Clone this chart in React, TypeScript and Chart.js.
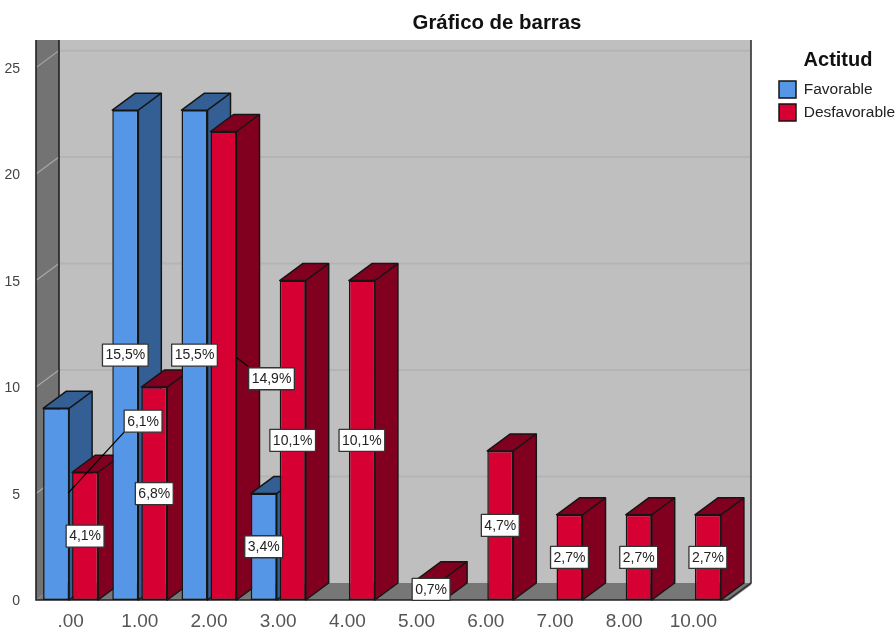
import React, { useEffect, useRef } from "react";
import { Chart, registerables } from "chart.js";

Chart.register(...registerables);

const categories = [".00", "1.00", "2.00", "3.00", "4.00", "5.00", "6.00", "7.00", "8.00", "10.00"];
const favorable = [9, 23, 23, 5, 0, 0, 0, 0, 0, 0];
const desfavorable = [6, 10, 22, 15, 15, 1, 7, 4, 4, 4];
const favorableLabels = ["6,1%", "15,5%", "15,5%", "3,4%", "", "", "", "", "", ""];
const desfavorableLabels = ["4,1%", "6,8%", "14,9%", "10,1%", "10,1%", "0,7%", "4,7%", "2,7%", "2,7%", "2,7%"];
const seriesNames = ["Favorable", "Desfavorable"];
const frontColors = ["#5596e6", "#d60032"];
const sideColors = ["#335f94", "#82001f"];
const yTicks = { max: 25.5, step: 5 };

const DX = 23;
const DY = 17;
const FONT = '"Liberation Sans", Arial, sans-serif';

// label moved away from its bar: [dataset, category, dx, dy, leaderFromDx, leaderFromDy, leaderToDx, leaderToDy]
const movedLabels = [
  [0, 0, 87, -83, 68, -72, 12, -11],
  [1, 2, 48, 13, 25, 1, 13.5, -8],
];

const bars3d = {
  id: "bars3d",
  afterLayout(chart: any) {
    chart.titleBlock.left = 98;
    const l = chart.legend;
    l.left = 773;
    l.right = 903;
    l.width = l.right - l.left;
    l.top = 50;
    l.bottom = 160;
    l.height = l.bottom - l.top;
  },
  beforeLayout(chart: any) {
    const l = chart.legend;
    if (!l.__wrapped) {
      const fit = l.fit;
      l.fit = function () {
        fit.call(this);
        this.width = 168;
      };
      l.__wrapped = true;
    }
  },
  beforeDatasetsDraw(chart: any) {
    const { ctx, chartArea: a, scales } = chart;
    const y = scales.y;
    const L = a.left, R = a.right, B = a.bottom;
    const wallTop = a.top - DY;

    ctx.save();
    // back wall
    ctx.fillStyle = "#bfbfbf";
    ctx.fillRect(L + DX, wallTop, R - L, B - DY - wallTop);
    // left wall
    ctx.fillStyle = "#737373";
    ctx.beginPath();
    ctx.moveTo(L, wallTop);
    ctx.lineTo(L + DX, wallTop);
    ctx.lineTo(L + DX, B - DY);
    ctx.lineTo(L, B);
    ctx.closePath();
    ctx.fill();
    // floor
    ctx.fillStyle = "#777777";
    ctx.beginPath();
    ctx.moveTo(L, B);
    ctx.lineTo(L + DX, B - DY);
    ctx.lineTo(R + DX, B - DY);
    ctx.lineTo(R, B);
    ctx.closePath();
    ctx.fill();

    // grid
    for (let v = yTicks.step; v <= yTicks.max; v += yTicks.step) {
      const py = y.getPixelForValue(v);
      ctx.strokeStyle = "#b4b4b4";
      ctx.lineWidth = 2;
      ctx.beginPath();
      ctx.moveTo(L + DX, py - DY);
      ctx.lineTo(R + DX, py - DY);
      ctx.stroke();
      ctx.strokeStyle = "#a8a8a8";
      ctx.lineWidth = 1.2;
      ctx.beginPath();
      ctx.moveTo(L, py);
      ctx.lineTo(L + DX, py - DY);
      ctx.stroke();
    }

    // frame lines
    ctx.strokeStyle = "#222222";
    ctx.lineWidth = 1.6;
    ctx.beginPath();
    ctx.moveTo(L, wallTop);
    ctx.lineTo(L, B);
    ctx.lineTo(R, B);
    ctx.moveTo(L + DX, wallTop);
    ctx.lineTo(L + DX, B - DY);
    ctx.stroke();
    ctx.strokeStyle = "#a0a0a0";
    ctx.lineWidth = 2;
    ctx.beginPath();
    ctx.moveTo(R + 1, B);
    ctx.lineTo(R + DX, B - DY + 1);
    ctx.stroke();
    ctx.strokeStyle = "#333333";
    ctx.lineWidth = 1.6;
    ctx.beginPath();
    ctx.moveTo(R + DX, wallTop);
    ctx.lineTo(R + DX, B - DY);
    ctx.lineTo(R, B);
    ctx.stroke();

    // bars, painted left to right
    const metas = [chart.getDatasetMeta(0), chart.getDatasetMeta(1)];
    const datasets = chart.data.datasets;
    categories.forEach((_, c) => {
      metas.forEach((meta: any, d: number) => {
        if (!datasets[d].data[c]) return;
        const el = meta.data[c];
        const l = el.x - el.width / 2;
        const r = el.x + el.width / 2;
        const t = el.y;
        const b = el.base;
        ctx.fillStyle = sideColors[d];
        ctx.strokeStyle = "#151515";
        ctx.lineWidth = 1.5;
        ctx.lineJoin = "round";
        ctx.beginPath();
        ctx.moveTo(l, t);
        ctx.lineTo(l + DX, t - DY);
        ctx.lineTo(r + DX, t - DY);
        ctx.lineTo(r + DX, b - DY);
        ctx.lineTo(r, b);
        ctx.lineTo(r, t);
        ctx.closePath();
        ctx.fill();
        ctx.stroke();
        ctx.beginPath();
        ctx.moveTo(r, t);
        ctx.lineTo(r + DX, t - DY);
        ctx.stroke();
        el.draw(ctx);
      });
    });

    // data labels
    const lists = [favorableLabels, desfavorableLabels];
    ctx.font = "14px " + FONT;
    ctx.textAlign = "center";
    ctx.textBaseline = "middle";
    const items: any[] = [];
    metas.forEach((meta: any, d: number) => {
      categories.forEach((_, c) => {
        const text = lists[d][c];
        if (!text) return;
        const el = meta.data[c];
        const cx0 = el.x;
        const cy0 = (el.y + el.base) / 2;
        const mv = movedLabels.find((m) => m[0] === d && m[1] === c);
        if (mv) {
          ctx.strokeStyle = "#000000";
          ctx.lineWidth = 1.3;
          ctx.beginPath();
          ctx.moveTo(cx0 + mv[4], cy0 + mv[5]);
          ctx.lineTo(cx0 + mv[6], cy0 + mv[7]);
          ctx.stroke();
        }
        items.push({ text, x: cx0 + (mv ? mv[2] : 0), y: cy0 + (mv ? mv[3] : 0) });
      });
    });
    items.forEach((it) => {
      const w = ctx.measureText(it.text).width + 6;
      const h = 22;
      ctx.fillStyle = "#ffffff";
      ctx.strokeStyle = "#333333";
      ctx.lineWidth = 1.3;
      ctx.fillRect(it.x - w / 2, it.y - h / 2, w, h);
      ctx.strokeRect(it.x - w / 2, it.y - h / 2, w, h);
      ctx.fillStyle = "#222222";
      ctx.fillText(it.text, it.x, it.y + 0.5);
    });
    ctx.restore();
    return false;
  },
};

export default function App() {
  const ref = useRef<HTMLCanvasElement>(null);
  useEffect(() => {
    document.body.style.margin = "0";
    const chart = new Chart(ref.current as HTMLCanvasElement, {
      type: "bar",
      data: {
        labels: categories,
        datasets: [favorable, desfavorable].map((data, i) => ({
          label: seriesNames[i],
          data,
          backgroundColor: frontColors[i],
          borderColor: "#151515",
          borderWidth: 1.5,
          borderSkipped: false,
          categoryPercentage: 0.838,
          barPercentage: 0.897,
        })),
      },
      options: {
        responsive: false,
        animation: false,
        font: { family: FONT },
        layout: { padding: 0 },
        plugins: {
          title: {
            display: true,
            text: "Gráfico de barras",
            color: "#111111",
            font: { family: FONT, size: 20.4, weight: "bold" },
            padding: { top: 11, bottom: 21.5 },
          },
          legend: {
            display: true,
            position: "right",
            align: "start",
            title: {
              display: true,
              text: "Actitud",
              color: "#111111",
              font: { family: FONT, size: 20, weight: "bold" },
              padding: { top: 0, bottom: 1 },
            },
            labels: {
              boxWidth: 17,
              boxHeight: 17,
              padding: 6,
              color: "#222222",
              font: { family: FONT, size: 15.5 },
            },
          },
          tooltip: { enabled: false },
        },
        scales: {
          x: {
            type: "category",
            grid: { display: false },
            border: { display: false },
            afterFit: (s: any) => {
              s.height = 30;
            },
            ticks: {
              color: "#555555",
              font: { family: FONT, size: 19 },
              padding: 2,
              autoSkip: false,
              maxRotation: 0,
            },
          },
          y: {
            type: "linear",
            min: 0,
            max: yTicks.max,
            grid: { display: false },
            border: { display: false },
            afterFit: (s: any) => {
              s.width = 36;
            },
            ticks: {
              stepSize: yTicks.step,
              includeBounds: false,
              color: "#444444",
              font: { family: FONT, size: 14 },
              padding: 8,
              labelOffset: 1.5,
            },
          },
        },
      },
      plugins: [bars3d],
    } as any);
    return () => chart.destroy();
  }, []);
  return <canvas ref={ref} width={896} height={630} style={{ display: "block" }} />;
}
